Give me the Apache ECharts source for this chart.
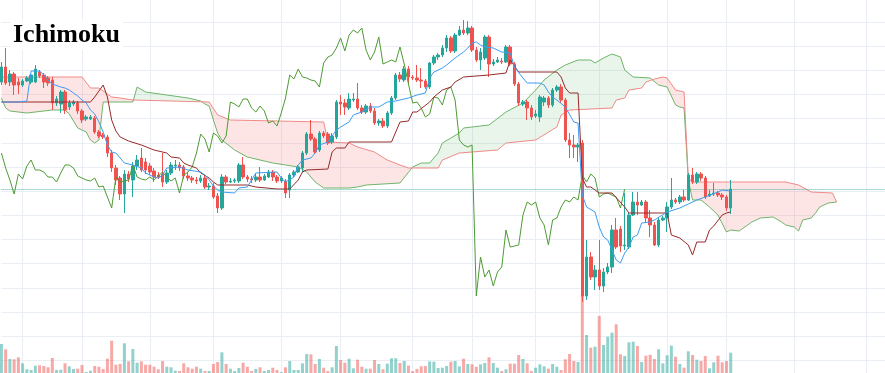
<!DOCTYPE html>
<html>
<head>
<meta charset="utf-8">
<script src="https://cdn.jsdelivr.net/npm/echarts@6/dist/echarts.min.js"></script>
<style>html,body{margin:0;padding:0;background:#fff;}#chart{width:885px;height:373px;}</style>
</head>
<body>
<div id="chart"></div>
<script>
// ---------------- data ----------------
const chartTitle = 'Ichimoku';
const nCategories = 210;                  // candles + 26-period forward cloud + right margin
const categories = Array.from({length: nCategories}, (_, i) => 'P' + (i + 1));
const vGridTicks = [5, 19, 35, 50, 66, 80, 97, 111, 126, 141, 157, 171, 187, 204];
const chikouShift = 25;

const opens = [11500,12250,11500,11900,11500,11350,11550,11500,11500,12000,
11850,11700,11600,10450,10400,11000,10250,10400,10450,10050,
9650,9650,9700,9000,8850,8750,7950,7200,6700,5900,
6900,6600,7300,7700,7500,7300,7050,6850,6900,6500,
6950,7300,7350,7250,6800,6700,6600,6550,6700,6250,
6300,5800,5200,6750,6500,6550,6550,7350,6750,6650,
6600,6750,6600,6750,7000,6750,6550,6550,6100,6850,
7000,7200,7950,8900,8650,8100,8950,8900,8500,8750,
10500,10450,10200,10600,10650,10200,10000,10300,10050,9450,
9550,9300,9950,10700,11850,11600,12150,11750,11700,11600,
11550,11250,12450,12750,12850,13200,13700,13050,13850,14100,
13950,14200,13100,12600,12700,13750,12400,12500,12550,12500,
13250,12400,11400,10400,10500,10200,9800,9750,10500,10700,
10350,11100,11250,10600,8600,8350,8250,8450,800,2750,
1750,2100,1300,2000,2250,4100,4150,3300,3250,4850,
5500,5350,5500,4700,4350,3350,4600,4700,5250,5600,
5500,5750,5600,6850,6500,6900,6700,5800,5900,5950,
5850,5750,5200];

const closes = [12250,11450,11900,11350,11350,11550,11700,11850,12150,11800,
11500,11450,10450,10650,11000,10100,10450,10500,10050,9600,
9750,9750,9000,8800,8750,7950,7200,6600,5900,6900,
6650,7300,7600,7100,7100,7000,6750,6750,6500,6950,
7350,7350,7200,6800,6700,6600,6550,6700,6250,6300,
5750,5200,6750,6500,6550,6600,7350,6750,6650,6600,
6750,6600,6800,7000,6750,6550,6700,5950,6850,7000,
7250,7950,8900,8650,8000,8950,8800,8450,8800,10500,
10400,10250,10650,10650,10200,10000,10300,10050,9450,9550,
9300,9950,10700,11850,11650,12150,11750,11700,11600,11550,
11250,12450,12750,12850,13200,13700,13050,13850,14100,13950,
14200,13100,12600,13000,13750,12400,12500,12600,12500,13250,
12400,11400,10450,10500,10200,9750,9900,10750,10700,10350,
11100,11250,10600,8600,8350,8250,8350,800,2750,1750,
2100,1300,2000,2250,4100,3250,3300,3350,4850,5500,
5350,5500,4700,4350,3350,4600,4700,5250,5600,5500,
5750,5600,6850,6500,6900,6700,5750,5900,5950,5850,
5750,5200,6150];

const highs = [12500,13200,12100,12000,11700,11650,11800,11900,12350,12100,
11950,11800,11750,10800,11100,11100,10600,10600,10550,10150,
9850,9850,9800,9100,8950,8850,8100,7350,6800,7100,
7050,7500,7850,8200,7700,7450,7200,7000,7950,7100,
7500,7600,7500,7350,7000,6800,6750,6850,6850,6450,
6450,5950,6900,6850,6700,6700,7450,7750,6850,6800,
6900,7250,6900,7100,7100,6850,6800,6650,6950,7100,
7350,8050,9000,9600,8750,9050,9050,9000,8950,10600,
10850,10650,10950,10950,11450,10350,10400,10450,10200,9650,
9700,10050,10800,11950,12000,12300,12300,11850,12350,12200,
11650,12500,12850,12950,13350,13850,13800,13950,14300,14600,
14550,14300,13250,13200,13850,13850,12650,12750,12700,13350,
13350,12500,11500,10600,10600,10350,10100,10850,10800,10800,
11200,11350,11400,10700,8950,8850,8450,8600,3600,3000,
2350,3600,2200,2450,4350,4700,4300,5950,4950,6000,
6000,5600,5600,5100,4500,4700,4800,5500,6700,5700,
5850,6100,6950,7200,7000,7000,6800,6100,6450,6050,
5950,5850,6600];

const lows = [11350,11350,11300,10850,10900,11250,11500,11400,11450,11700,
11200,11300,10100,10300,9950,9900,10100,10300,9900,9450,
9550,9600,8900,8700,8650,7750,7000,6350,5600,4950,
6500,5750,7100,7000,6900,6850,6500,6650,6250,6400,
6850,7100,7050,6650,6550,6450,6400,6450,6150,6100,
5650,4950,5100,6400,6450,6450,6450,6650,6500,6450,
6500,6500,6550,6700,6550,6450,6450,5700,5700,6750,
6950,7000,7850,8550,7900,8000,8700,8350,8400,8650,
9850,9850,10100,10500,10100,9900,9900,9950,9350,9300,
9200,9200,9850,10600,11500,11500,11400,11600,11500,11200,
11150,11150,12350,12600,12750,13000,12950,12950,13800,13850,
13850,13000,12500,12100,12600,11750,12300,12450,12400,12450,
12300,11300,10300,10300,9600,9600,9700,9500,10300,10200,
10250,11000,10450,8500,7700,7700,7500,500,600,1600,
1100,1100,1000,1900,1950,3150,3000,3100,3150,4800,
4850,5300,4450,3750,3300,3250,4550,4000,5150,5400,
5400,5500,5550,6400,6400,6550,5650,5750,5800,5750,
5600,5050,4900];

const volumes = [29000,23700,14000,13700,15700,9700,3700,3000,7300,7700,
7000,5700,15000,3000,3300,9700,6700,4000,4300,8000,
1000,2300,7000,6300,4000,14300,32300,8300,9000,29700,
11700,24000,10300,11700,8300,8300,6300,3700,12000,6300,
5700,2300,2000,9700,5700,4300,6300,4300,2000,2000,
9000,11000,20700,9000,4300,2000,5000,10300,6300,2000,
4000,5700,2000,3000,5300,3000,1000,5700,12000,3000,
3000,9700,19000,18700,9000,14000,5300,2000,5700,27000,
13000,10300,14300,4700,13300,6300,4300,4300,13000,9000,
3700,9300,14700,14700,10000,12000,7300,2000,4000,6700,
7000,11700,11300,5000,5300,7000,11300,12000,6700,14300,
9000,8700,6300,8700,10000,15700,10000,5300,2000,3700,
9300,9300,18000,14000,9700,2000,5300,8700,6700,4300,
9000,6300,3000,13700,19000,12000,11000,78000,38000,25300,
26300,57000,28000,36300,40300,48700,18700,17000,30700,31300,
27000,11000,17300,18300,14000,23700,9700,17700,27300,16300,
9000,5300,21700,18000,13300,12000,17000,4700,10700,17300,
10700,12000,20300];

// indicator lines, read as vertices [period index, price]
const tenkan = [[0,10500],[4,10500],[6,10550],[7,12050],[9,12050],[10,11850],[11,11600],[12,11400],[14,11250],[15,11200],[16,11100],[17,10950],[18,10800],[19,10600],[20,10450],[21,10100],[22,9900],[23,9500],[24,9000],[25,8350],[26,8000],[27,7950],[28,7700],[29,7450],[31,7350],[33,7200],[34,6950],[36,6750],[37,6700],[38,6850],[39,7200],[42,7250],[44,7100],[47,7000],[48,6850],[49,6600],[50,6300],[51,6100],[52,6000],[55,5950],[56,6200],[58,6250],[60,6950],[65,7000],[66,6700],[67,6500],[69,6750],[70,7350],[71,7600],[73,7700],[74,7950],[75,8350],[77,8500],[79,9100],[80,9250],[82,9500],[83,9850],[85,10000],[87,10250],[89,10250],[91,10500],[93,10550],[96,10700],[98,10850],[100,10950],[101,11700],[102,12000],[104,12200],[105,12350],[107,12700],[109,13000],[110,13200],[111,13450],[112,13500],[113,13350],[114,13250],[116,13200],[118,13000],[120,12950],[121,12250],[123,11700],[124,11450],[127,11450],[128,11350],[129,11000],[130,10750],[131,10600],[133,10250],[135,9500],[136,9450],[137,5850],[138,5250],[140,5000],[141,4250],[142,3750],[143,3600],[145,2600],[146,2450],[147,2950],[148,3250],[149,3750],[150,3850],[151,4450],[153,4500],[154,4600],[157,5000],[160,5200],[163,5500],[164,5600],[166,5750],[169,6000],[170,6100],[172,6050]];

const kijun = [[0,10500],[21,10500],[22,10750],[24,11350],[25,10750],[26,9600],[27,9050],[28,8750],[30,8550],[33,8350],[36,8100],[39,7950],[40,7750],[42,7700],[43,7450],[44,7350],[46,7200],[47,6950],[49,6700],[50,6500],[51,6350],[58,6350],[60,6250],[65,6150],[68,6150],[70,6600],[71,7000],[72,7100],[77,7150],[78,8000],[79,8200],[81,8200],[82,8500],[92,8500],[93,9000],[94,9500],[96,9550],[97,10000],[98,10000],[101,10500],[102,10750],[104,11100],[106,11250],[107,11500],[109,11750],[115,11850],[119,11950],[120,12600],[121,12300],[122,12000],[131,12000],[132,11750],[133,11200],[134,10950],[136,10950],[137,6700],[138,6250],[139,6250],[140,6100],[141,5950],[144,5950],[147,5250],[148,4950],[157,4950],[158,3850],[160,3700],[162,3350],[163,2850],[164,3500],[166,3500],[167,4100],[168,4300],[170,4850],[171,4950],[172,5000]];

const spanA = [[0,10700],[1,10200],[2,10050],[6,9950],[12,10100],[15,10100],[16,9900],[18,9200],[20,9000],[21,8600],[22,8450],[23,8600],[24,10500],[31,10500],[32,11250],[34,11000],[39,10850],[44,10700],[47,10550],[48,10400],[49,10300],[50,9600],[51,8950],[52,8600],[55,8100],[58,7750],[61,7600],[64,7450],[67,7350],[70,7250],[72,7000],[74,6500],[76,6200],[82,6200],[84,6250],[86,6350],[94,6450],[97,7250],[99,7450],[101,7450],[103,7950],[104,8450],[106,8700],[108,8950],[109,9200],[115,9350],[119,10000],[123,10450],[126,11100],[128,11600],[131,12100],[133,12350],[136,12600],[139,12600],[140,12450],[142,12700],[144,12900],[146,12750],[147,12100],[149,11750],[153,11700],[155,11350],[157,11250],[159,10350],[160,10250],[161,10200],[162,6600],[163,5600],[165,5600],[167,5250],[169,4850],[171,4000],[172,4100],[174,4050],[177,4500],[179,4700],[182,4750],[184,4500],[185,4350],[187,4250],[188,4050],[189,4600],[191,4700],[192,4950],[193,5250],[195,5450],[197,5500]];

const spanB = [[0,11750],[19,11750],[21,11200],[23,11200],[26,10750],[28,10700],[31,10600],[49,10500],[51,9850],[54,9600],[76,9500],[77,8500],[82,8450],[84,8250],[88,8000],[91,7600],[94,7350],[96,7200],[103,7200],[104,7600],[108,7950],[117,8100],[119,8450],[126,8600],[131,9250],[132,9850],[134,10100],[144,10200],[145,10600],[147,10700],[148,11100],[151,11200],[152,11500],[154,11650],[156,11750],[157,11700],[159,11100],[161,11000],[162,6700],[163,6500],[185,6500],[188,6350],[191,6000],[196,5950],[197,5500]];

// ---------------- styles ----------------
const UP = '#26a69a', DOWN = '#ef5350';
const UP_VOL = 'rgba(38,166,154,0.5)', DOWN_VOL = 'rgba(239,83,80,0.5)';
const GRID_COLOR = '#e9eef4';
const GREEN_FILL = 'rgba(76,175,80,0.12)', RED_FILL = 'rgba(239,83,80,0.15)';

// ---------------- build series data ----------------
const candleData = opens.map((o, i) => [o, closes[i], lows[i], highs[i]]);
const volumeData = volumes.map((v, i) => ({ value: v, itemStyle: { color: closes[i] >= opens[i] ? UP_VOL : DOWN_VOL } }));
const chikou = closes.slice(chikouShift).map((c, k) => [k, c]);

// cloud polygons between the two spans (geometry of straight segments between read vertices)
function lineAt(pts, x) {
  if (x <= pts[0][0]) return pts[0][1];
  for (let k = 1; k < pts.length; k++) {
    if (x <= pts[k][0]) {
      const [x0, y0] = pts[k - 1], [x1, y1] = pts[k];
      return y0 + (y1 - y0) * (x - x0) / (x1 - x0);
    }
  }
  return pts[pts.length - 1][1];
}
const cloudXs = Array.from(new Set(spanA.map(p => p[0]).concat(spanB.map(p => p[0])))).sort((a, b) => a - b);
const cloudRuns = [];
(function () {
  let cur = null, px = null, pa = null, pb = null;
  cloudXs.forEach(x => {
    const a = lineAt(spanA, x), b = lineAt(spanB, x);
    const s = a > b ? 1 : a < b ? -1 : (cur ? cur.s : 1);
    if (!cur) { cur = { s, A: [[x, a]], B: [[x, b]] }; }
    else if (s !== cur.s) {
      const d0 = pa - pb, d1 = a - b, t = d0 / (d0 - d1);
      const xc = px + t * (x - px), yc = pa + t * (a - pa);
      cur.A.push([xc, yc]); cur.B.push([xc, yc]); cloudRuns.push(cur);
      cur = { s, A: [[xc, yc], [x, a]], B: [[xc, yc], [x, b]] };
    } else { cur.A.push([x, a]); cur.B.push([x, b]); }
    px = x; pa = a; pb = b;
  });
  cloudRuns.push(cur);
})();

// ---------------- chart ----------------
const chart = echarts.init(document.getElementById('chart'), null, { renderer: 'canvas' });
const hiddenAxis = { axisLine: { show: false }, axisTick: { show: false }, axisLabel: { show: false } };

chart.setOption({
  animation: false,
  backgroundColor: '#ffffff',
  title: {
    text: chartTitle, left: 10, top: 20, padding: [2, 3], backgroundColor: '#ffffff',
    textStyle: { fontFamily: 'Liberation Serif', fontWeight: 'bold', fontSize: 26, color: '#000000' }
  },
  grid: [
    { left: 1.42, width: 886.16, top: -2.08, height: 386.56, outerBoundsMode: 'none', containLabel: false },
    { left: 1.42, width: 886.16, top: 273, height: 100, outerBoundsMode: 'none', containLabel: false }
  ],
  xAxis: [
    Object.assign({ type: 'category', data: categories, boundaryGap: false, gridIndex: 0,
      splitLine: { show: true, interval: (idx) => vGridTicks.includes(idx), lineStyle: { color: GRID_COLOR, width: 1 } } }, hiddenAxis),
    Object.assign({ type: 'category', data: categories, boundaryGap: false, gridIndex: 1, splitLine: { show: false } }, hiddenAxis)
  ],
  yAxis: [
    Object.assign({ type: 'value', gridIndex: 0, min: -3624, max: 15704, interval: 1208,
      splitLine: { show: true, lineStyle: { color: GRID_COLOR, width: 1 } } }, hiddenAxis),
    Object.assign({ type: 'value', gridIndex: 1, min: 0, max: 100000, splitLine: { show: false } }, hiddenAxis)
  ],
  series: [
    {
      name: 'Cloud', type: 'custom', xAxisIndex: 0, yAxisIndex: 0, z: 1, silent: true,
      data: [[0, 0]], encode: { x: 0, y: 1 },
      renderItem: (params, api) => {
        const pt = (x, v) => {
          const i0 = Math.floor(x), f = x - i0;
          const c0 = api.coord([i0, v]);
          if (f === 0) return c0;
          const c1 = api.coord([i0 + 1, v]);
          return [c0[0] + f * (c1[0] - c0[0]), c0[1]];
        };
        return {
          type: 'group',
          children: cloudRuns.map(r => ({
            type: 'polygon',
            shape: { points: r.A.map(p => pt(p[0], p[1])).concat(r.B.slice().reverse().map(p => pt(p[0], p[1]))) },
            style: { fill: r.s > 0 ? GREEN_FILL : RED_FILL }
          }))
        };
      }
    },
    { name: 'Senkou A', type: 'line', data: spanA, symbol: 'none', z: 2, silent: true,
      lineStyle: { color: '#6fb56a', width: 1 } },
    { name: 'Senkou B', type: 'line', data: spanB, symbol: 'none', z: 2, silent: true,
      lineStyle: { color: '#f08a87', width: 1 } },
    { name: 'Volume', type: 'bar', xAxisIndex: 1, yAxisIndex: 1, data: volumeData, barWidth: 3, z: 2, silent: true },
    {
      name: 'Price', type: 'candlestick', data: candleData, barWidth: 3, z: 3,
      itemStyle: { color: UP, color0: DOWN, borderColor: UP, borderColor0: DOWN, borderWidth: 1 },
      markLine: {
        symbol: 'none', silent: true, label: { show: false },
        lineStyle: { type: 'dotted', color: 'rgba(38,166,154,0.8)', width: 1 },
        data: [{ yAxis: closes[closes.length - 1] }]
      }
    },
    { name: 'Chikou', type: 'line', data: chikou, symbol: 'none', z: 4, silent: true,
      lineStyle: { color: '#4e9b34', width: 1 } },
    { name: 'Kijun', type: 'line', data: kijun, symbol: 'none', z: 4, silent: true,
      lineStyle: { color: '#962a2a', width: 1 } },
    { name: 'Tenkan', type: 'line', data: tenkan, symbol: 'none', z: 4, silent: true,
      lineStyle: { color: '#3d9cf2', width: 1 } }
  ]
});
</script>
</body>
</html>
